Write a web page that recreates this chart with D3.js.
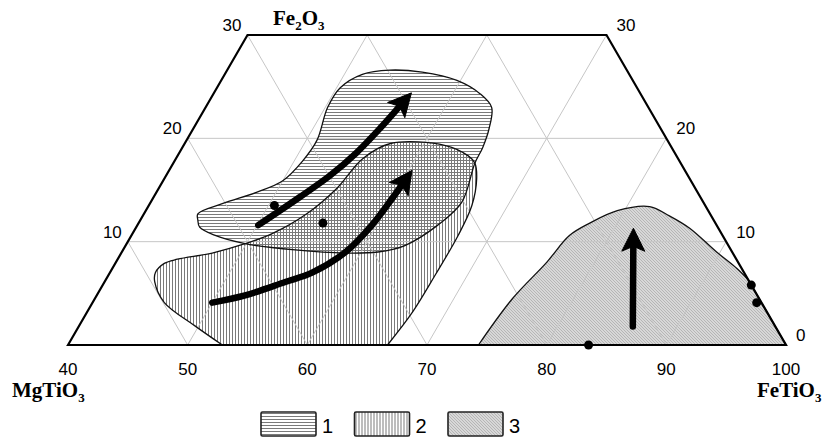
<!DOCTYPE html>
<html>
<head>
<meta charset="utf-8">
<script src="https://cdn.jsdelivr.net/npm/d3@7"></script>
<style>
body { margin: 0; background: #fff; }
</style>
</head>
<body>
<div id="chart"></div>
<script>
// compositions as [FeTiO3, Fe2O3] (%), MgTiO3 = the rest
const bottomTicks = [40, 50, 60, 70, 80, 90, 100];
const sideTicks = [0, 10, 20, 30];

const region1 = [[44.8,12.1],[44.5,12.7],[46.1,13.7],[48.4,14.8],[50.0,15.9],[50.7,17.8],[50.9,19.8],
  [50.2,23.0],[50.3,24.9],[51.5,26.2],[53.6,26.6],[56.4,26.4],[59.7,25.6],[62.3,24.3],[63.9,23.0],
  [64.7,21.0],[65.1,19.1],[65.2,17.6],[66.0,13.8],[65.1,11.6],[63.3,9.6],[61.4,9.0],[58.7,8.9],
  [54.4,9.2],[49.9,9.8],[47.0,10.6],[45.3,11.4]];

const region2 = [[52.9,0],[49.6,1.9],[46.0,4.1],[44.2,6.1],[43.8,7.0],[44.1,7.9],[45.0,8.3],[47.6,8.9],
  [49.9,9.8],[51.7,10.8],[53.6,12.7],[54.9,15.2],[55.6,18.0],[57.2,19.5],[61.9,19.3],[64.3,18.3],
  [65.2,17.6],[66.1,16.1],[67.0,13.5],[67.3,10.6],[67.3,6.8],[67.2,3.2],[66.7,0]];

const region3 = [[74.3,0],[74.9,4.5],[76.0,8.0],[76.6,10.6],[77.7,11.8],[79.4,13.0],[81.9,13.4],
  [84.0,12.5],[86.3,11.3],[89.7,9.0],[92.2,7.4],[93.7,6.3],[100,0]];

const dots = [[50.5,13.5],[55.4,11.8],[83.5,0],[94.2,5.8],[95.5,4.1]];

const arrowA = [[50.1,11.6],[52.2,14.3],[53.7,16.4],[54.8,18.6],[55.6,21.0],[56.5,24.4]];
const arrowB = [[50.0,4.1],[52.4,4.8],[55.1,6.1],[56.9,7.0],[58.7,9.0],[59.6,11.6],[60.0,14.2],[60.3,16.9]];
const arrowC = [[86.3,1.8],[81.6,11.3]];

const legendLabels = ["1", "2", "3"];

const W = 827, H = 440;
const svg = d3.select("#chart").append("svg").attr("width", W).attr("height", H);

const x = d3.scaleLinear().domain([40, 100]).range([68, 786]);
const y = d3.scaleLinear().domain([0, 30]).range([345, 35]);
const proj = d => [x(d[0] + d[1] / 2), y(d[1])];

// hatch patterns
const defs = svg.append("defs");
defs.append("pattern").attr("id", "hatch1").attr("patternUnits", "userSpaceOnUse")
    .attr("width", 6).attr("height", 3)
  .append("path").attr("d", "M0,1.5H6").attr("stroke", "#7a7a7a").attr("stroke-width", 1);
defs.append("pattern").attr("id", "hatch2").attr("patternUnits", "userSpaceOnUse")
    .attr("width", 3).attr("height", 6)
  .append("path").attr("d", "M1.5,0V6").attr("stroke", "#7a7a7a").attr("stroke-width", 1);
const p3 = defs.append("pattern").attr("id", "hatch3").attr("patternUnits", "userSpaceOnUse")
    .attr("width", 3).attr("height", 3);
p3.append("rect").attr("width", 3).attr("height", 3).attr("fill", "#d8d8d8");
p3.append("path").attr("d", "M0,0L3,3M-1,2L1,4M2,-1L4,1").attr("stroke", "#a0a0a0").attr("stroke-width", 0.6);
const patterns = ["url(#hatch1)", "url(#hatch2)", "url(#hatch3)"];

const lineOpen = d3.line().curve(d3.curveCatmullRom.alpha(0.5));
const lineClosed = d3.line().curve(d3.curveCatmullRomClosed.alpha(0.5));

const path1 = lineClosed(region1.map(proj));
const path2 = lineOpen(region2.map(proj)) + "Z";
const r3 = region3.map(proj);
const path3 = lineOpen(r3.slice(0, -1)) + "L" + r3[r3.length - 1].join(",") + "Z";

const regions = [{d: path3, fill: patterns[2]}, {d: path1, fill: patterns[0]}, {d: path2, fill: patterns[1]}];

svg.append("g").selectAll("path").data(regions).join("path")
    .attr("d", r => r.d).attr("fill", r => r.fill).attr("stroke", "none");

// triangular grid
const fMax = d3.max(sideTicks), tMin = d3.min(bottomTicks), tMax = d3.max(bottomTicks);
const grid = [];
sideTicks.filter(f => f > 0 && f < fMax).forEach(f => grid.push([[tMin, f], [tMax - f, f]]));
bottomTicks.filter(t => t > tMin && t < tMax).forEach(t => {
  grid.push([[t, 0], [t, Math.min(fMax, tMax - t)]]);
  const m = tMax - t, top = Math.min(fMax, tMax - tMin - m);
  grid.push([[t, 0], [t - top, top]]);
});
svg.append("g").selectAll("line").data(grid).join("line")
    .attr("x1", d => proj(d[0])[0]).attr("y1", d => proj(d[0])[1])
    .attr("x2", d => proj(d[1])[0]).attr("y2", d => proj(d[1])[1])
    .attr("stroke", "#c6c6c6").attr("stroke-width", 1);

svg.append("g").selectAll("path").data(regions).join("path")
    .attr("d", r => r.d).attr("fill", "none").attr("stroke", "#111").attr("stroke-width", 1.3);

// frame
const frame = [[tMin, 0], [tMin, fMax], [tMax - fMax, fMax], [tMax, 0]];
svg.append("path").attr("d", d3.line()(frame.map(proj)) + "Z")
    .attr("fill", "none").attr("stroke", "#000").attr("stroke-width", 2.2).attr("stroke-linejoin", "miter");

// arrows
function drawArrow(pts) {
  const p = pts.map(proj);
  const tip = p[p.length - 1], prev = p[p.length - 2];
  const dx = tip[0] - prev[0], dy = tip[1] - prev[1], L = Math.hypot(dx, dy);
  const ux = dx / L, uy = dy / L, nx = -uy, ny = ux;
  const hl = 23, hw = 11.5;
  const base = [tip[0] - ux * hl, tip[1] - uy * hl];
  const body = p.slice(0, -1).concat([[tip[0] - ux * 14, tip[1] - uy * 14]]);
  svg.append("path").attr("d", lineOpen(body))
      .attr("fill", "none").attr("stroke", "#000").attr("stroke-width", 6.5)
      .attr("stroke-linecap", "round");
  const head = [tip, [base[0] + nx * hw, base[1] + ny * hw], [base[0] + ux * 5, base[1] + uy * 5],
    [base[0] - nx * hw, base[1] - ny * hw]];
  svg.append("path").attr("d", d3.line()(head) + "Z").attr("fill", "#000")
      .attr("stroke", "#000").attr("stroke-width", 1).attr("stroke-linejoin", "round");
}
[arrowA, arrowB, arrowC].forEach(drawArrow);

svg.append("g").selectAll("circle").data(dots).join("circle")
    .attr("cx", d => proj(d)[0]).attr("cy", d => proj(d)[1]).attr("r", 4.5).attr("fill", "#000");

// tick labels
const tickFont = "'Liberation Sans', Arial, sans-serif";
svg.append("g").selectAll("text").data(bottomTicks).join("text")
    .attr("x", d => x(d)).attr("y", 375).attr("text-anchor", "middle")
    .attr("font-family", tickFont).attr("font-size", 17).text(d => d);
svg.append("g").selectAll("text").data(sideTicks.filter(f => f > 0)).join("text")
    .attr("x", d => proj([tMin, d])[0] - 6).attr("y", d => proj([tMin, d])[1] - 4)
    .attr("text-anchor", "end").attr("font-family", tickFont).attr("font-size", 17).text(d => d);
svg.append("g").selectAll("text").data(sideTicks).join("text")
    .attr("x", d => proj([tMax - d, d])[0] + 10).attr("y", d => proj([tMax - d, d])[1] - 4)
    .attr("text-anchor", "start").attr("font-family", tickFont).attr("font-size", 17).text(d => d);

// component names with subscripts
function formula(px, py, parts) {
  const t = svg.append("text").attr("x", px).attr("y", py)
      .attr("font-family", "'Liberation Serif', 'Times New Roman', serif")
      .attr("font-weight", "bold").attr("font-size", 21);
  let low = false;
  parts.forEach(s => {
    const sub = /^\d$/.test(s);
    const dy = sub === low ? 0 : (sub ? 5 : -5);
    low = sub;
    t.append("tspan").attr("dy", dy).attr("font-size", sub ? 13 : 21).text(s);
  });
}
formula(273, 25, ["Fe", "2", "O", "3"]);
formula(12, 397, ["MgTiO", "3"]);
formula(757, 397, ["FeTiO", "3"]);

// legend
const leg = svg.append("g").selectAll("g").data(legendLabels).join("g")
    .attr("transform", (d, i) => `translate(${261 + i * 93.5},412)`);
leg.append("rect").attr("width", 55).attr("height", 24).attr("rx", 1.5)
    .attr("fill", (d, i) => patterns[i]).attr("stroke", "#222").attr("stroke-width", 1.6);
leg.append("text").attr("x", 61).attr("y", 21).attr("font-family", tickFont)
    .attr("font-size", 20).text(d => d);
</script>
</body>
</html>
